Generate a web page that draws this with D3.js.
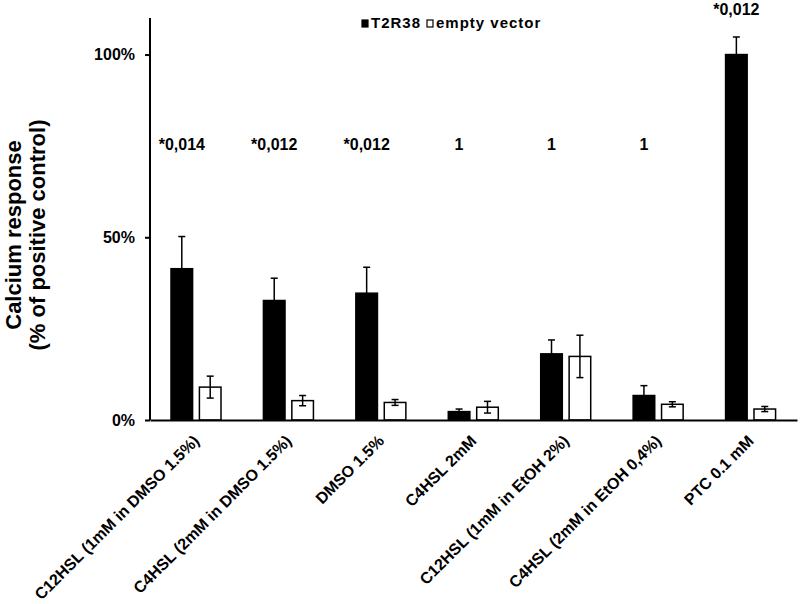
<!DOCTYPE html>
<html>
<head>
<meta charset="utf-8">
<script src="https://cdn.jsdelivr.net/npm/d3@7"></script>
<style>
  body { margin: 0; background: #fff; }
  svg text { font-family: "Liberation Sans", Arial, sans-serif; font-weight: bold; fill: #000; }
</style>
</head>
<body>
<svg id="chart" width="800" height="604"></svg>
<script>
// data (% of positive control)
const categories = [
    "C12HSL (1mM in DMSO 1.5%)",
    "C4HSL (2mM in DMSO 1.5%)",
    "DMSO 1.5%",
    "C4HSL 2mM",
    "C12HSL (1mM in EtOH 2%)",
    "C4HSL (2mM in EtOH 0,4%)",
    "PTC 0.1 mM"
];
const seriesNames = ["T2R38", "empty vector"];
const t2r38 = [41.4, 32.7, 34.7, 2.3, 18.1, 6.7, 100];
const t2r38Err = [8.8, 6.1, 7.1, 0.7, 3.8, 2.7, 4.8];
const emptyVec = [9.0, 5.3, 4.8, 3.5, 17.4, 4.3, 3.0];
const emptyErr = [3.0, 1.4, 0.8, 1.6, 5.8, 0.7, 0.7];
const pValues = ["*0,014", "*0,012", "*0,012", "1", "1", "1", "*0,012"];
const yTicks = [0, 50, 100];

const svg = d3.select("#chart");

const x = d3.scaleBand().domain(categories).range([150, 797]).padding(0);
const xSub = d3.scaleBand().domain(seriesNames).range([21, 71]).paddingInner(0.24);
const y = d3.scaleLinear().domain([0, 110]).range([420, 18]);

const rows = categories.map((c, i) => ({
    cat: c,
    bars: [
        { s: seriesNames[0], v: t2r38[i], e: t2r38Err[i] },
        { s: seriesNames[1], v: emptyVec[i], e: emptyErr[i] }
    ],
    p: pValues[i]
}));

// bars
const groups = svg.selectAll(".grp")
    .data(rows)
    .enter()
    .append("g")
    .attr("class", "grp")
    .attr("transform", d => `translate(${x(d.cat)},0)`);

groups.selectAll("rect")
    .data(d => d.bars)
    .enter()
    .append("rect")
    .attr("x", d => xSub(d.s))
    .attr("y", d => y(d.v))
    .attr("width", xSub.bandwidth())
    .attr("height", d => y(0) - y(d.v))
    .attr("fill", d => d.s === "T2R38" ? "#000" : "#fff")
    .attr("stroke", "#000")
    .attr("stroke-width", 1.5);

// error bars
const eb = groups.selectAll(".err")
    .data(d => d.bars)
    .enter()
    .append("g")
    .attr("class", "err")
    .attr("stroke", "#000")
    .attr("stroke-width", 1.5);

eb.append("line")
    .attr("x1", d => xSub(d.s) + xSub.bandwidth() / 2)
    .attr("x2", d => xSub(d.s) + xSub.bandwidth() / 2)
    .attr("y1", d => y(d.v + d.e))
    .attr("y2", d => y(Math.max(0, d.v - d.e)));
eb.append("line")
    .attr("x1", d => xSub(d.s) + xSub.bandwidth() / 2 - 3.5)
    .attr("x2", d => xSub(d.s) + xSub.bandwidth() / 2 + 3.5)
    .attr("y1", d => y(d.v + d.e))
    .attr("y2", d => y(d.v + d.e));
eb.append("line")
    .attr("x1", d => xSub(d.s) + xSub.bandwidth() / 2 - 3.5)
    .attr("x2", d => xSub(d.s) + xSub.bandwidth() / 2 + 3.5)
    .attr("y1", d => y(Math.max(0, d.v - d.e)))
    .attr("y2", d => y(Math.max(0, d.v - d.e)))
    .attr("stroke", d => d.s === "T2R38" ? "none" : "#000");

// p-value labels above the T2R38 bar
groups.append("text")
    .attr("x", xSub("T2R38") + xSub.bandwidth() / 2)
    .attr("y", d => Math.min(y(74), y(d.bars[0].v + d.bars[0].e) - 22))
    .attr("text-anchor", "middle")
    .style("font-size", "16px")
    .text(d => d.p);

// y axis
const yAxis = svg.append("g")
    .attr("transform", "translate(150,0)")
    .call(d3.axisLeft(y).tickValues(yTicks).tickSize(5).tickFormat(d => d + "%"))
    .attr("font-size", null)
    .attr("font-family", null);
yAxis.select(".domain").attr("stroke-width", 2).attr("d", `M0,${y(110)}V${y(0)}`);
yAxis.selectAll(".tick line").attr("stroke-width", 2);
yAxis.selectAll(".tick text")
    .attr("x", -15)
    .attr("font-size", 16)
    .style("font-size", "16px");

// x axis
const xAxis = svg.append("g")
    .attr("transform", `translate(0,${y(0)})`)
    .call(d3.axisBottom(x).tickSize(0).tickFormat(""));
xAxis.select(".domain").attr("stroke-width", 2);

svg.selectAll(".xlab")
    .data(categories)
    .enter()
    .append("text")
    .attr("class", "xlab")
    .attr("transform", d => `translate(${x(d) + x.bandwidth() / 2 + 4},${y(0) + 22}) rotate(-45)`)
    .attr("text-anchor", "end")
    .style("font-size", "16px")
    .text(d => d);

// y title
const yt = svg.append("text")
    .attr("transform", "translate(0,235) rotate(-90)")
    .attr("text-anchor", "middle")
    .style("font-size", "22px");
yt.append("tspan").attr("x", 0).attr("y", 21).text("Calcium response");
yt.append("tspan").attr("x", 0).attr("y", 45).text("(% of positive control)");

// legend
const legendX = [362, 427];
const leg = svg.selectAll(".leg")
    .data(seriesNames)
    .enter()
    .append("g")
    .attr("class", "leg")
    .attr("transform", (d, i) => `translate(${legendX[i]},20)`);
leg.append("rect")
    .attr("x", 0).attr("y", 0)
    .attr("width", 6).attr("height", 7)
    .attr("fill", d => d === "T2R38" ? "#000" : "#fff")
    .attr("stroke", "#000")
    .attr("stroke-width", 1.2);
leg.append("text")
    .attr("x", 9)
    .attr("y", 8)
    .style("font-size", "15px")
    .style("letter-spacing", "1px")
    .text(d => d);
</script>
</body>
</html>
